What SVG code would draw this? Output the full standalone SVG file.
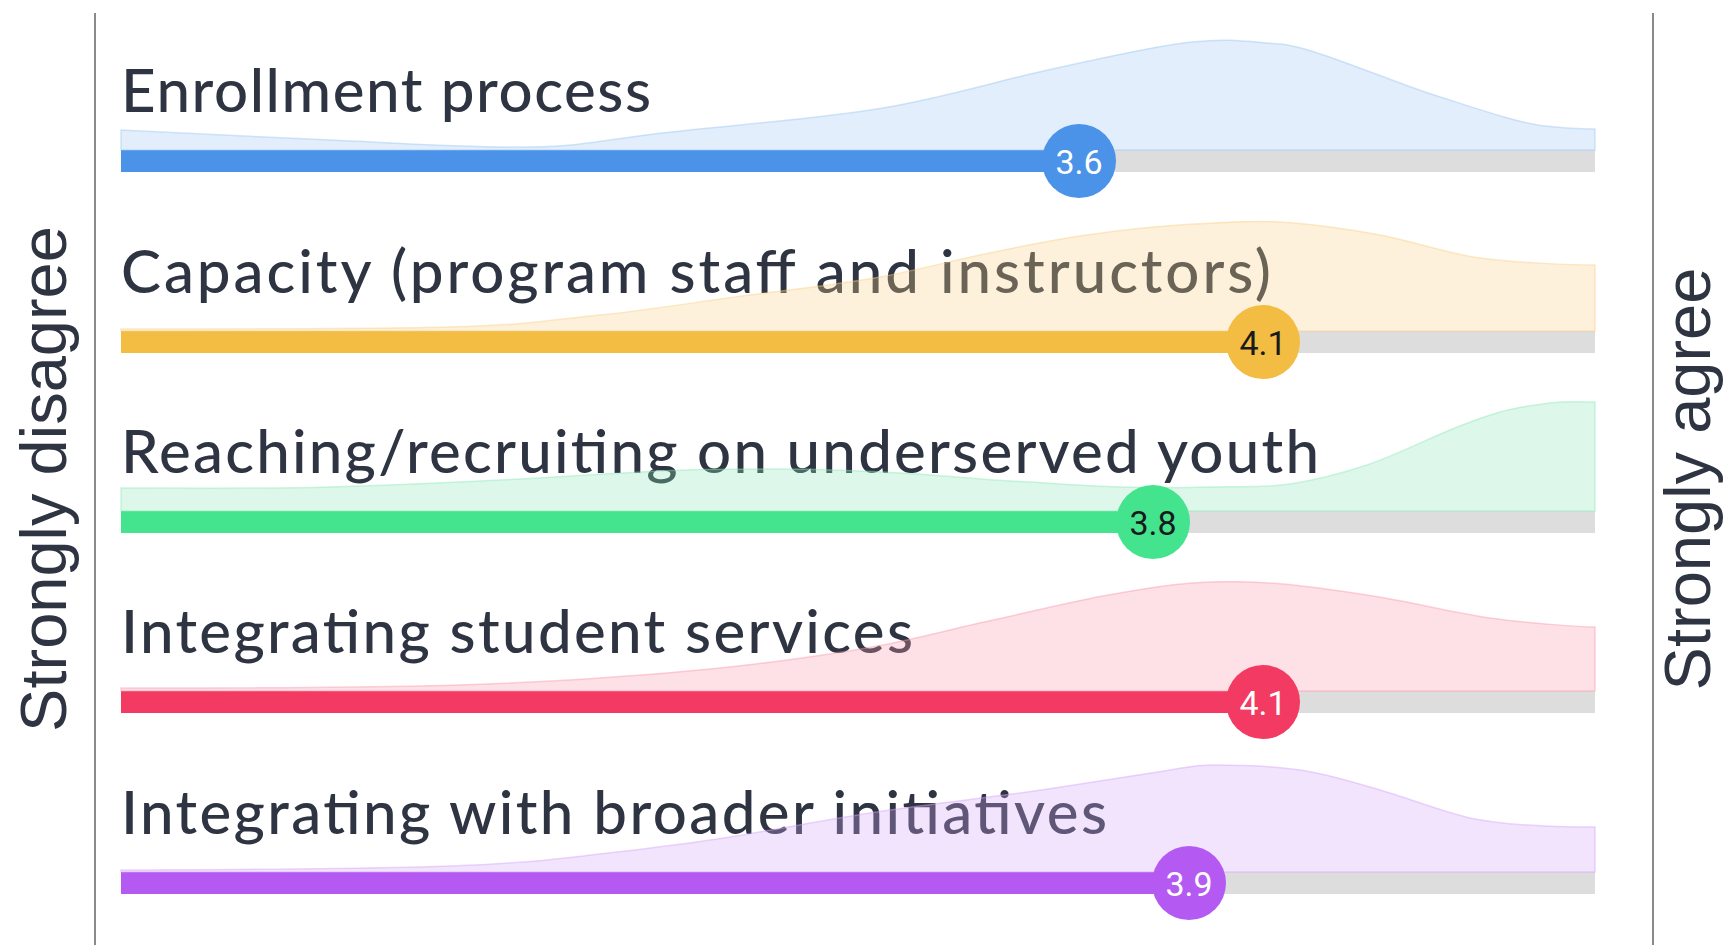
<svg xmlns="http://www.w3.org/2000/svg" width="1730" height="945" viewBox="0 0 1730 945">
<style>
.bg{fill:#ffffff}
.axis{stroke:#8a8a8a;stroke-width:2;fill:none}
.track{fill:#dddddd}
.label{font-family:Lato,"Open Sans",sans-serif;font-size:60px;font-weight:500;fill:#2e3441}
.side{font-family:"Liberation Sans",Arial,sans-serif;font-size:65px;fill:#2e3441;text-anchor:middle}
.area{fill-opacity:0.3;stroke-opacity:0.45;stroke-width:1.5}
.val{font-family:Roboto,"Liberation Sans",sans-serif;font-size:34px;font-weight:400;text-anchor:middle;dominant-baseline:central}
.blue{fill:#4a93e8}
.yellow{fill:#f2bd42}
.green{fill:#44e38e}
.red{fill:#f23a63}
.purple{fill:#b45af2}
.a-blue{fill:#9ec6f2;stroke:#9ec6f2}
.a-yellow{fill:#f8d087;stroke:#f8d087}
.a-green{fill:#8ee8b9;stroke:#8ee8b9}
.a-red{fill:#f89bac;stroke:#f89bac}
.a-purple{fill:#d4a5f8;stroke:#d4a5f8}
.light{fill:#ffffff}
.dark{fill:#1a1a1a}
</style>
<rect class="bg" x="0" y="0" width="1730" height="945"/>
<g id="axes">
<line class="axis" x1="95" y1="13" x2="95" y2="945"/>
<line class="axis" x1="1653" y1="13" x2="1653" y2="945"/>
<text class="side" transform="translate(66,479) rotate(-90)">Strongly disagree</text>
<text class="side" transform="translate(1710,479) rotate(-90)">Strongly agree</text>
</g>
<g id="row-enrollment">
<rect class="track" x="121" y="150" width="1474" height="22"/>
<rect class="blue" x="121" y="150" width="958" height="22"/>
<text class="label" x="121" y="112" textLength="530" lengthAdjust="spacing">Enrollment process</text>
<path class="area a-blue" d="M121,150 L121,130 C156,132 262,137 330,140 S475,148 530,147 S603,140 662,133 S819,119 883,108 S997,81 1048,70 S1153,46 1192,42 S1250,42 1280,44 S1390,81 1434,95 S1518,123 1545,126 S1585,129 1595,129 L1595,150 Z"/>
<circle class="blue" cx="1079" cy="161" r="37"/>
<text class="val light" x="1079" y="162">3.6</text>
</g>
<g id="row-capacity">
<rect class="track" x="121" y="331" width="1474" height="22"/>
<rect class="yellow" x="121" y="331" width="1142" height="22"/>
<text class="label" x="121" y="293" textLength="1150" lengthAdjust="spacing">Capacity (program staff and instructors)</text>
<path class="area a-yellow" d="M121,331 L121,329 C176,329 370,329 450,327 S550,320 600,315 S703,301 750,295 S842,284 880,277 S947,262 980,255 S1047,241 1080,236 S1147,227 1180,225 S1247,220 1280,222 S1347,229 1380,235 S1444,253 1480,258 S1576,265 1595,265 L1595,331 Z"/>
<circle class="yellow" cx="1263" cy="342" r="37"/>
<text class="val dark" x="1263" y="343">4.1</text>
</g>
<g id="row-reaching">
<rect class="track" x="121" y="511" width="1474" height="22"/>
<rect class="green" x="121" y="511" width="1032" height="22"/>
<text class="label" x="121" y="473" textLength="1198" lengthAdjust="spacing">Reaching/recruiting on underserved youth</text>
<path class="area a-green" d="M121,511 L121,488 C170,488 264,489 330,487 S465,482 520,479 S617,473 660,471 S740,469 780,469 S862,471 900,473 S973,479 1010,481 S1087,486 1120,487 S1182,488 1210,487 S1264,488 1290,484 S1340,474 1367,465 S1428,439 1450,430 S1483,417 1500,412 S1534,405 1550,403 S1585,402 1595,402 L1595,511 Z"/>
<circle class="green" cx="1153" cy="522" r="37"/>
<text class="val dark" x="1153" y="523">3.8</text>
</g>
<g id="row-services">
<rect class="track" x="121" y="691" width="1474" height="22"/>
<rect class="red" x="121" y="691" width="1142" height="22"/>
<text class="label" x="121" y="653" textLength="792" lengthAdjust="spacing">Integrating student services</text>
<path class="area a-red" d="M121,691 L121,688 C200,688 340,688 420,686 S541,682 600,678 S725,668 772,662 S846,652 883,645 S956,628 993,620 S1070,602 1103,596 S1164,585 1192,583 S1238,581 1269,583 S1342,591 1379,597 S1454,613 1490,618 S1580,627 1595,627 L1595,691 Z"/>
<circle class="red" cx="1263" cy="702" r="37"/>
<text class="val light" x="1263" y="703">4.1</text>
</g>
<g id="row-initiatives">
<rect class="track" x="121" y="872" width="1474" height="22"/>
<rect class="purple" x="121" y="872" width="1068" height="22"/>
<text class="label" x="121" y="834" textLength="986" lengthAdjust="spacing">Integrating with broader initiatives</text>
<path class="area a-purple" d="M121,872 L121,870 C180,870 370,869 450,866 S556,859 600,854 S670,846 717,839 S828,819 883,811 S1002,796 1048,789 S1130,776 1158,772 S1190,765 1214,765 S1272,766 1300,770 S1352,782 1380,790 S1443,812 1470,818 S1524,825 1545,826 S1585,827 1595,827 L1595,872 Z"/>
<circle class="purple" cx="1189" cy="883" r="37"/>
<text class="val light" x="1189" y="884">3.9</text>
</g>
<g id="connectors"></g>
</svg>
